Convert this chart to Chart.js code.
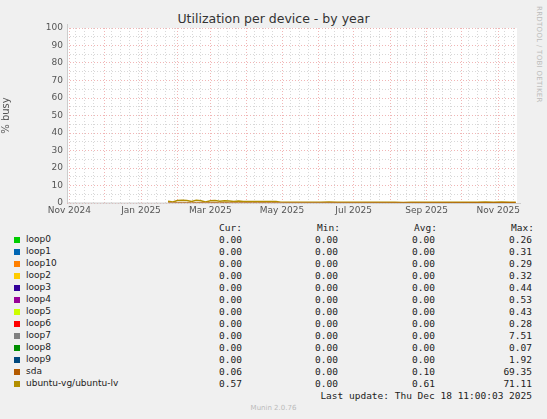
<!DOCTYPE html><html><head><meta charset="utf-8">
<script src="https://cdn.jsdelivr.net/npm/chart.js@4"></script>
<style>
body{margin:0;width:547px;height:419px;background:#f0f0f0;font-family:"DejaVu Sans";position:relative;overflow:hidden}
#t{position:absolute;top:11px;left:0;width:547px;text-align:center;font-size:12.5px;color:#333}
#cw{position:absolute;left:0;top:0;width:547px;height:220px}
#side{position:absolute;right:4px;top:6px;writing-mode:vertical-rl;font-size:7px;color:#bbb;letter-spacing:0.3px}
.r{position:absolute;font-size:9.5px;color:#222;font-family:"DejaVu Sans Mono";white-space:pre}
.sw{position:absolute;width:6px;height:6px}
#foot{position:absolute;top:404px;width:547px;text-align:center;font-size:7px;color:#bbb}
</style></head><body>
<div id="t">Utilization per device - by year</div>
<div id="side">RRDTOOL / TOBI OETIKER</div>
<div id="cw"><canvas id="c" width="547" height="220"></canvas></div>
<div id="leg"></div>
<div id="foot">Munin 2.0.76</div>
<script>
const names=["loop0","loop1","loop10","loop2","loop3","loop4","loop5","loop6","loop7","loop8","loop9","sda","ubuntu-vg/ubuntu-lv"];
const colors=["#00cc00","#0066b3","#ff8000","#ffcc00","#330099","#990099","#ccff00","#ff0000","#808080","#008f00","#00487d","#b35a00","#b38f00"];
const cur=["0.00","0.00","0.00","0.00","0.00","0.00","0.00","0.00","0.00","0.00","0.00","0.06","0.57"];
const mins=["0.00","0.00","0.00","0.00","0.00","0.00","0.00","0.00","0.00","0.00","0.00","0.00","0.00"];
const avgs=["0.00","0.00","0.00","0.00","0.00","0.00","0.00","0.00","0.00","0.00","0.00","0.10","0.61"];
const maxs=["0.26","0.31","0.29","0.32","0.44","0.53","0.43","0.28","7.51","0.07","1.92","69.35","71.11"];
// days since 2024-11-01
const days=[84,88,92,96,100,104,108,112,116,120,124,128,132,136,140,144,148,152,156,160,164,168,172,176,180,186,193,200,207,214,221,228,235,242,249,256,263,270,277,284,291,298,305,312,319,326,333,340,347,354,361,368,375,380];
const lvVals=[1.0,0.6,1.4,1.5,1.4,0.8,1.5,1.3,0.6,1.3,1.4,1.0,1.3,1.2,0.9,1.2,0.8,0.8,0.8,0.8,0.8,0.8,0.8,0.8,0.5,0.4,0.4,0.4,0.4,0.4,0.5,0.4,0.4,0.4,0.4,0.4,0.4,0.4,0.4,0.3,0.4,0.4,0.4,0.4,0.4,0.4,0.4,0.4,0.4,0.5,0.4,0.5,0.4,0.4];
const sdaVals=[0.2,0.2,0.3,0.3,0.3,0.2,0.3,0.3,0.2,0.3,0.3,0.2,0.3,0.2,0.2,0.2,0.2,0.2,0.2,0.2,0.2,0.2,0.2,0.2,0.1,0.1,0.1,0.1,0.1,0.1,0.1,0.1,0.1,0.1,0.1,0.1,0.1,0.1,0.1,0.1,0.1,0.1,0.1,0.1,0.1,0.1,0.1,0.1,0.1,0.1,0.1,0.1,0.1,0.1];
const monthDays=[0,30,61,92,120,151,181,212,242,273,304,334,365];
const monthLabels={0:"Nov 2024",61:"Jan 2025",120:"Mar 2025",181:"May 2025",242:"Jul 2025",304:"Sep 2025",365:"Nov 2025"};
const yTicks=[0,10,20,30,40,50,60,70,80,90,100];

const pts=v=>days.map((d,i)=>({x:d,y:v[i]}));
const minor=[];for(let d=-2;d<=381;d+=7.6)minor.push(Math.round(d*10)/10);
new Chart(document.getElementById("c"),{type:"line",
data:{datasets:[
{data:pts(sdaVals),borderColor:colors[11],borderWidth:1,pointRadius:0,tension:0},
{data:pts(lvVals),borderColor:colors[12],borderWidth:1.5,pointRadius:0,tension:0}]},
options:{animation:false,responsive:false,plugins:{legend:{display:false},tooltip:{enabled:false}},
layout:{padding:{top:28,right:30,left:0,bottom:0}},
scales:{
x:{type:"linear",min:-2,max:381,
afterBuildTicks:a=>{a.ticks=monthDays.map(v=>({value:v,major:true})).concat(minor.filter(m=>!monthDays.some(md=>Math.abs(md-m)<2)).map(v=>({value:v})));a.ticks.sort((p,q)=>p.value-q.value);},
afterFit:a=>{a.height=17},
ticks:{autoSkip:false,maxRotation:0,padding:2,color:"#555",font:{family:"DejaVu Sans",size:9},callback:v=>monthLabels[v]||""},
grid:{color:c=>c.tick&&c.tick.major?"rgba(235,150,150,0.7)":"rgba(200,200,200,0.7)",lineWidth:1,drawTicks:false},border:{display:false,dash:[1,2]}},
y:{min:0,max:100,afterBuildTicks:a=>{const t=[];for(let v=0;v<=100;v+=5)t.push({value:v});a.ticks=t;},
afterFit:a=>{a.width=67},
ticks:{autoSkip:false,padding:4,color:"#555",font:{family:"DejaVu Sans",size:9},callback:v=>yTicks.includes(v)?String(v):""},
title:{display:true,text:"% busy",color:"#555",font:{family:"DejaVu Sans",size:10},padding:{top:0,bottom:8}},
grid:{color:c=>c.tick&&c.tick.value%10===0?"rgba(235,150,150,0.7)":"rgba(200,200,200,0.7)",drawTicks:false},border:{display:false,dash:[1,2]}}
}},
plugins:[{id:"bg",beforeDraw(ch){const x=ch.ctx,a=ch.chartArea;x.save();x.fillStyle="#fff";x.fillRect(a.left,a.top,a.right-a.left,a.bottom-a.top);x.restore();},
afterDraw(ch){const x=ch.ctx,a=ch.chartArea;x.save();x.strokeStyle="#ccc";x.lineWidth=1;x.beginPath();x.moveTo(a.left+0.5,a.top-4);x.lineTo(a.left+0.5,a.bottom);x.lineTo(a.right+4,a.bottom+0.5);x.stroke();x.restore();}}]
});
let h='';const R=(x,y,t,al)=>`<div class="r" style="top:${y}px;${al?'right:'+(547-x)+'px':'left:'+x+'px'}">${t}</div>`;
h+=R(242,222,"Cur:",1)+R(340,222,"Min:",1)+R(437,222,"Avg:",1)+R(534,222,"Max:",1);
names.forEach((n,i)=>{const y=234+i*12;
h+=`<div class="sw" style="left:14px;top:${y+3}px;background:${colors[i]}"></div>`;
h+=`<div class="r" style="left:26px;top:${y}px;font-family:'DejaVu Sans';font-size:9px">${n}</div>`;
h+=R(242,y,cur[i],1)+R(338,y,mins[i],1)+R(435,y,avgs[i],1)+R(532,y,maxs[i],1);});
h+=R(532,390,"Last update: Thu Dec 18 11:00:03 2025",1);
document.getElementById("leg").innerHTML=h;
</script></body></html>
